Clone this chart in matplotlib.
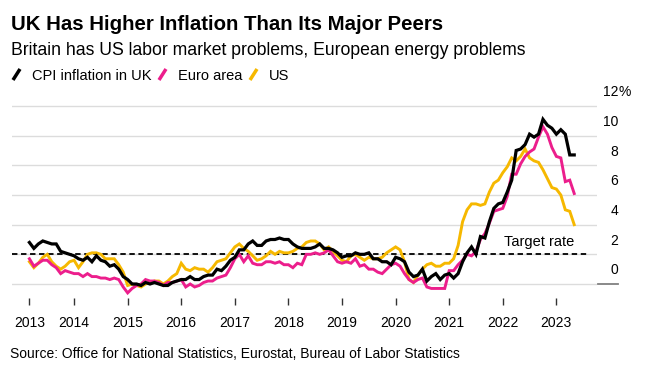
import matplotlib
matplotlib.use("Agg")
import matplotlib.pyplot as plt
from matplotlib.lines import Line2D

plt.rcParams["font.family"] = ["Liberation Sans", "DejaVu Sans"]

# Monthly annual inflation rates, March 2013 to May 2023
uk_cpi = [
    2.8, 2.4, 2.7, 2.9, 2.8, 2.7, 2.7, 2.2, 2.1, 2.0,              # 2013 (Mar-Dec)
    1.9, 1.7, 1.6, 1.8, 1.5, 1.9, 1.6, 1.5, 1.2, 1.3, 1.0, 0.5,    # 2014
    0.3, 0.0, 0.0, -0.1, 0.1, 0.0, 0.1, 0.0, -0.1, -0.1, 0.1, 0.2, # 2015
    0.3, 0.3, 0.5, 0.3, 0.3, 0.5, 0.6, 0.6, 1.0, 0.9, 1.2, 1.6,    # 2016
    1.8, 2.3, 2.3, 2.7, 2.9, 2.6, 2.6, 2.9, 3.0, 3.0, 3.1, 3.0,    # 2017
    3.0, 2.7, 2.5, 2.4, 2.4, 2.4, 2.5, 2.7, 2.4, 2.4, 2.3, 2.1,    # 2018
    1.8, 1.9, 1.9, 2.1, 2.0, 2.0, 2.1, 1.7, 1.7, 1.5, 1.5, 1.3,    # 2019
    1.8, 1.7, 1.5, 0.8, 0.5, 0.6, 1.0, 0.2, 0.5, 0.7, 0.3, 0.6,    # 2020
    0.7, 0.4, 0.7, 1.5, 2.1, 2.5, 2.0, 3.2, 3.1, 4.2, 5.1, 5.4,    # 2021
    5.5, 6.2, 7.0, 9.0, 9.1, 9.4, 10.1, 9.9, 10.1, 11.1, 10.7, 10.5,  # 2022
    10.1, 10.4, 10.1, 8.7, 8.7,                                    # 2023 (Jan-May)
]
euro_area = [
    1.7, 1.2, 1.4, 1.6, 1.6, 1.3, 1.1, 0.7, 0.9, 0.8,
    0.7, 0.7, 0.5, 0.7, 0.5, 0.5, 0.4, 0.4, 0.3, 0.4, 0.3, -0.2,
    -0.6, -0.3, -0.1, 0.0, 0.3, 0.2, 0.2, 0.1, -0.1, 0.1, 0.1, 0.2,
    0.3, -0.2, 0.0, -0.2, -0.1, 0.1, 0.2, 0.2, 0.4, 0.5, 0.6, 1.1,
    1.7, 2.0, 1.5, 1.9, 1.4, 1.3, 1.3, 1.5, 1.5, 1.4, 1.5, 1.3,
    1.3, 1.1, 1.4, 1.3, 2.0, 2.0, 2.1, 2.0, 2.1, 2.3, 1.9, 1.5,
    1.4, 1.5, 1.4, 1.7, 1.2, 1.3, 1.0, 1.0, 0.8, 0.7, 1.0, 1.3,
    1.4, 1.2, 0.7, 0.3, 0.1, 0.3, 0.4, -0.2, -0.3, -0.3, -0.3, -0.3,
    0.9, 0.9, 1.3, 1.6, 2.0, 1.9, 2.2, 3.0, 3.4, 4.1, 4.9, 5.0,
    5.1, 5.9, 7.4, 7.4, 8.1, 8.6, 8.9, 9.1, 9.9, 10.6, 10.1, 9.2,
    8.6, 8.5, 6.9, 7.0, 6.1,
]
us_cpi = [
    1.5, 1.1, 1.4, 1.8, 2.0, 1.5, 1.2, 1.0, 1.2, 1.5,
    1.6, 1.1, 1.5, 2.0, 2.1, 2.1, 2.0, 1.7, 1.7, 1.7, 1.3, 0.8,
    -0.1, 0.0, -0.1, -0.2, 0.0, 0.1, 0.2, 0.2, 0.0, 0.2, 0.5, 0.7,
    1.4, 1.0, 0.9, 1.1, 1.0, 1.0, 0.8, 1.1, 1.5, 1.6, 1.7, 2.1,
    2.5, 2.7, 2.4, 2.2, 1.9, 1.6, 1.7, 1.9, 2.2, 2.0, 2.2, 2.1,
    2.1, 2.2, 2.4, 2.5, 2.8, 2.9, 2.9, 2.7, 2.3, 2.5, 2.2, 1.9,
    1.6, 1.5, 1.9, 2.0, 1.8, 1.6, 1.8, 1.7, 1.7, 1.8, 2.1, 2.3,
    2.5, 2.3, 1.5, 0.3, 0.1, 0.6, 1.0, 1.3, 1.4, 1.2, 1.2, 1.4,
    1.4, 1.7, 2.6, 4.2, 5.0, 5.4, 5.4, 5.3, 5.4, 6.2, 6.8, 7.0,
    7.5, 7.9, 8.5, 8.3, 8.6, 9.1, 8.5, 8.3, 8.2, 7.7, 7.1, 6.5,
    6.4, 6.0, 5.0, 4.9, 4.0,
]
years = [2013, 2014, 2015, 2016, 2017, 2018, 2019, 2020, 2021, 2022, 2023]
y_ticks = [0, 2, 4, 6, 8, 10, 12]
target_rate = 2.0

BLACK = "#000000"
PINK = "#ec1e8c"
YELLOW = "#f6b800"
W, H = 645, 375


def fx(x):
    return x / W


def fy(y):
    return 1 - y / H


fig = plt.figure(figsize=(W / 100, H / 100), dpi=100)
ax = fig.add_axes([fx(12), fy(298), fx(597) - fx(12), fy(95) - fy(298)])

months = list(range(len(uk_cpi)))
ax.plot(months, us_cpi, color=YELLOW, lw=2.1, solid_joinstyle="miter")
ax.plot(months, euro_area, color=PINK, lw=2.1, solid_joinstyle="miter")
ax.plot(months, uk_cpi, color=BLACK, lw=2.3, solid_joinstyle="miter")

ax.set_xlim(-3.9, 127.1)
ax.set_ylim(-0.944, 12.74)

# gridlines
for v in y_ticks:
    ax.axhline(v, color="#dcdcdc", lw=1, zorder=0)
ax.plot([-3.9, 125.3], [target_rate, target_rate], color=BLACK, lw=1.3,
        ls=(0, (3, 2)), zorder=1)
ax.text(122, target_rate + 0.35, "Target rate", ha="right", va="bottom", fontsize=10.5)

# right-side value labels
for v in y_ticks:
    ax.text(1.036, v + 0.45, str(v), transform=ax.get_yaxis_transform(),
            ha="right", va="bottom", fontsize=10)
    if v == 12:
        ax.text(1.036, v + 0.45, "%", transform=ax.get_yaxis_transform(),
                ha="left", va="bottom", fontsize=10)
ax.plot([1.002, 1.036], [0, 0], transform=ax.get_yaxis_transform(),
        color="#808080", lw=1.3, clip_on=False)

xt = [0] + [10 + 12 * (y - 2014) for y in years[1:]]
ax.set_xticks(xt)
ax.set_xticklabels([str(y) for y in years])
ax.set_yticks([])
ax.tick_params(axis="x", direction="out", length=5, width=1, color="#333333",
               pad=8, labelsize=10)
for s in ax.spines.values():
    s.set_visible(False)

# header
fig.text(fx(11), fy(30), "UK Has Higher Inflation Than Its Major Peers",
         fontsize=14.7, fontweight="bold", va="baseline")
fig.text(fx(11), fy(55), "Britain has US labor market problems, European energy problems",
         fontsize=12.7, va="baseline")

# legend
for x0, color, label in [(13, BLACK, "CPI inflation in UK"),
                         (159, PINK, "Euro area"),
                         (250, YELLOW, "US")]:
    fig.add_artist(Line2D([fx(x0), fx(x0 + 7)], [fy(80), fy(69)], color=color,
                          lw=2.5, solid_capstyle="butt"))
    fig.text(fx(x0 + 19), fy(80), label, fontsize=10.5, va="baseline")

fig.text(fx(10), fy(358), "Source: Office for National Statistics, Eurostat, Bureau of Labor Statistics",
         fontsize=10, va="baseline")

fig.savefig("out.png", dpi=100)
